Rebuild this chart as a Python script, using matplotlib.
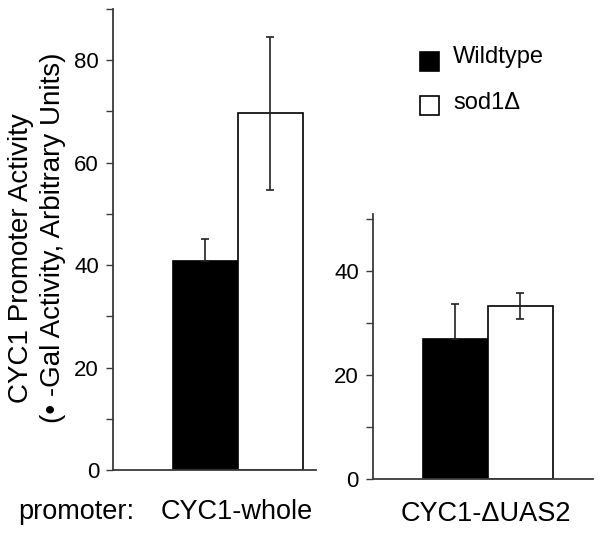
import matplotlib.pyplot as plt
from matplotlib.ticker import MultipleLocator
from matplotlib.patches import Rectangle

plt.rcParams['font.family'] = ['Liberation Sans', 'DejaVu Sans']

# data
groups = ["CYC1-whole", "CYC1-\u0394UAS2"]
series = ["Wildtype", "sod1\u0394"]
wildtype = [40.7, 26.9]
wildtype_err = [4.4, 6.7]
sod1 = [69.6, 33.2]
sod1_err = [15.0, 2.5]
ylims = [90, 51]

fig = plt.figure(figsize=(6.02, 5.34), dpi=100)
ax1 = fig.add_axes([0.1877, 0.1199, 0.3372, 0.8634])
ax2 = fig.add_axes([0.6191, 0.1030, 0.3659, 0.4963])

spine_col = '#3a3a3a'
axes = [ax1, ax2]
xlims = [203 / 65, 220 / 65]
lefts = [60 / 65, 50 / 65]

for i, ax in enumerate(axes):
    x0 = lefts[i]
    ax.bar(x0, wildtype[i], width=1, align='edge', color='black',
           edgecolor='black', linewidth=1.2, zorder=2)
    ax.bar(x0 + 1, sod1[i], width=1, align='edge', color='white',
           edgecolor='black', linewidth=1.2, zorder=2)
    ax.errorbar(x0 + 0.5, wildtype[i], yerr=[[0], [wildtype_err[i]]],
                fmt='none', ecolor='#222222', elinewidth=1.2, capsize=3,
                capthick=1.2, zorder=3)
    ax.errorbar(x0 + 1.5, sod1[i], yerr=sod1_err[i], fmt='none',
                ecolor='#222222', elinewidth=1.2, capsize=3, capthick=1.2,
                zorder=3)
    ax.set_xlim(0, xlims[i])
    ax.set_ylim(0, ylims[i])
    ax.yaxis.set_major_locator(MultipleLocator(20))
    ax.yaxis.set_minor_locator(MultipleLocator(10))
    ax.tick_params(axis='y', which='both', direction='out', length=5,
                   width=1, color=spine_col, labelsize=16, pad=5)
    ax.tick_params(axis='x', which='both', length=0, labelbottom=False)
    for s in ['top', 'right']:
        ax.spines[s].set_visible(False)
    for s in ['left', 'bottom']:
        ax.spines[s].set_color(spine_col)
        ax.spines[s].set_linewidth(1.3)

fig.text(237 / 602, 1 - 512 / 534, groups[0], fontsize=19.5, ha='center', va='center')
fig.text(486 / 602, 1 - 514 / 534, groups[1], fontsize=19.5, ha='center', va='center')
fig.text(18 / 602, 1 - 512 / 534, "promoter:", fontsize=19.5, ha='left', va='center')

fig.text(21 / 602, 1 - 258 / 534, "CYC1 Promoter Activity", fontsize=20,
         rotation=90, ha='center', va='center')
fig.text(53 / 602, 1 - 238 / 534, "(\u2022 -Gal Activity, Arbitrary Units)",
         fontsize=20, rotation=90, ha='center', va='center')

# legend
fig.patches.append(Rectangle((420 / 602, 1 - 71 / 534), 19 / 602, 19 / 534,
                             transform=fig.transFigure, facecolor='black',
                             edgecolor='black', linewidth=1.2))
fig.patches.append(Rectangle((420 / 602, 1 - 115 / 534), 19 / 602, 19 / 534,
                             transform=fig.transFigure, facecolor='white',
                             edgecolor='black', linewidth=1.2))
fig.text(453 / 602, 1 - 57 / 534, series[0], fontsize=17, ha='left', va='center')
fig.text(453 / 602, 1 - 103 / 534, series[1], fontsize=17, ha='left', va='center')

plt.savefig("out.png", dpi=100)
